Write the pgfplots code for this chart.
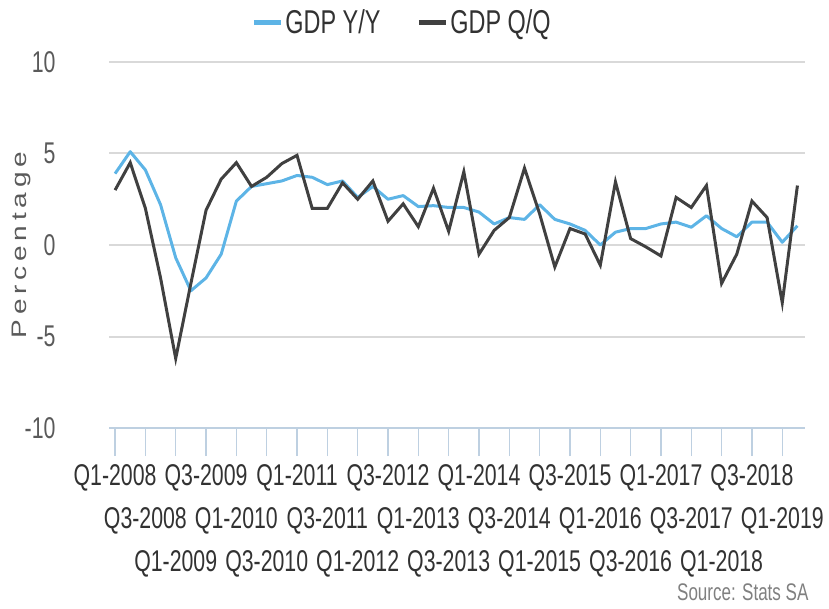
\documentclass[border=0pt]{standalone}
\usepackage{pgfplots}
\pgfplotsset{compat=1.18}
\usepackage{fontspec}
\setmainfont{Liberation Sans}[FakeStretch=0.71]
\newfontfamily\plainfont{Liberation Sans}
\definecolor{yy}{RGB}{93,180,230}
\definecolor{qq}{RGB}{64,64,64}
\definecolor{gridc}{RGB}{217,217,217}
\definecolor{axisc}{RGB}{190,208,225}
\definecolor{labc}{RGB}{50,50,50}
\definecolor{ylabc}{RGB}{90,90,90}
\begin{document}
\begin{tikzpicture}
\useasboundingbox (0pt,0pt) rectangle (829pt,608pt);
\begin{axis}[
  at={(109pt,180pt)}, anchor=south west,
  scale only axis, width=696pt, height=366pt,
  xmin=-0.4, xmax=45.5, ymin=-10, ymax=10,
  axis x line*=bottom, axis y line*=left,
  x axis line style={draw=axisc, line width=2pt},
  y axis line style={draw=none},
  xtick={0,2,...,44},
  xticklabels={Q1-2008,Q3-2008,Q1-2009,Q3-2009,Q1-2010,Q3-2010,Q1-2011,Q3-2011,Q1-2012,Q3-2012,Q1-2013,Q3-2013,Q1-2014,Q3-2014,Q1-2015,Q3-2015,Q1-2016,Q3-2016,Q1-2017,Q3-2017,Q1-2018,Q3-2018,Q1-2019},
  tick align=outside, major tick length=28pt,
  xtick style={draw=axisc, line width=1.5pt},
  ytick style={draw=none},
  xticklabel style={font=\fontsize{30}{36}\selectfont, text=labc, anchor=north, yshift={-5pt-mod(\ticknum,3)*43pt}},
  ytick={-10,-5,0,5,10},
  yticklabels={-10,-5,0,5,10},
  yticklabel style={font=\fontsize{30}{36}\selectfont, text=ylabc, anchor=east, xshift=-22pt},
  ymajorgrids, grid style={draw=gridc, line width=2pt},
  legend style={at={(0.421,1.109)}, anchor=center, draw=none, fill=none,
    font=\fontsize{33}{38}\selectfont, text=labc,
    /tikz/every even column/.append style={column sep=34pt}},
  legend columns=2,
  legend image code/.code={\draw[line width=5pt] (0pt,0pt) -- (27pt,0pt);},
  clip=false,
]
\addplot[yy, line width=3pt, line join=round] coordinates {
(0,3.9)(1,5.1)(2,4.1)(3,2.2)(4,-0.7)(5,-2.5)(6,-1.8)(7,-0.5)(8,2.4)(9,3.2)
(10,3.35)(11,3.5)(12,3.8)(13,3.7)(14,3.3)(15,3.5)(16,2.6)(17,3.2)(18,2.5)(19,2.7)
(20,2.1)(21,2.15)(22,2.05)(23,2.05)(24,1.8)(25,1.15)(26,1.5)(27,1.4)(28,2.2)(29,1.4)
(30,1.15)(31,0.8)(32,0.0)(33,0.7)(34,0.9)(35,0.9)(36,1.15)(37,1.25)(38,0.97)(39,1.6)
(40,0.9)(41,0.45)(42,1.25)(43,1.25)(44,0.15)(45,1.05)};
\addlegendentry{GDP Y/Y}
\addplot[qq, line width=3pt, line join=miter] coordinates {
(0,3.0)(1,4.5)(2,2.0)(3,-1.8)(4,-6.2)(5,-2.1)(6,1.9)(7,3.6)(8,4.5)(9,3.2)
(10,3.7)(11,4.45)(12,4.9)(13,2.0)(14,2.0)(15,3.4)(16,2.5)(17,3.5)(18,1.3)(19,2.25)
(20,1.0)(21,3.1)(22,0.75)(23,4.0)(24,-0.5)(25,0.8)(26,1.5)(27,4.2)(28,1.7)(29,-1.2)
(30,0.9)(31,0.6)(32,-1.1)(33,3.45)(34,0.35)(35,-0.1)(36,-0.6)(37,2.6)(38,2.05)(39,3.25)
(40,-2.1)(41,-0.5)(42,2.4)(43,1.5)(44,-3.15)(45,3.25)};
\addlegendentry{GDP Q/Q}
\end{axis}
\node[rotate=90, text=ylabc] at (21pt,363pt) {\scalebox{1}[0.75]{\plainfont\fontsize{28}{32}\selectfont\addfontfeature{LetterSpace=17}Percentage}};
\node[anchor=base east, text=gray, font=\fontsize{24}{28}\selectfont] at (812pt,8pt) {Source: Stats SA};
\end{tikzpicture}
\end{document}
